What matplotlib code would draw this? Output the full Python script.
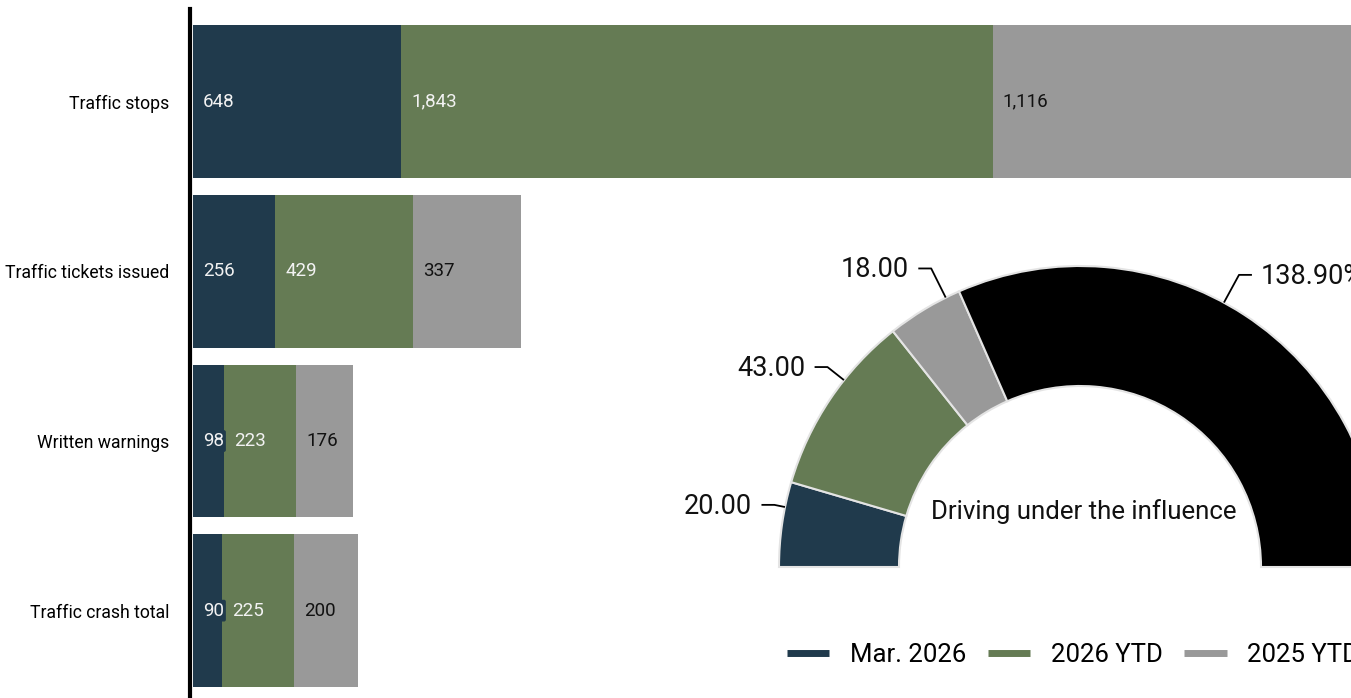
import numpy as np
import matplotlib
matplotlib.use('Agg')
import matplotlib.pyplot as plt
from matplotlib.lines import Line2D

plt.rcParams['font.family'] = ['Roboto', 'DejaVu Sans']

# bar data
categories = ['Traffic stops', 'Traffic tickets issued', 'Written warnings', 'Traffic crash total']
series_names = ['Mar. 2026', '2026 YTD', '2025 YTD']
mar_2026 = [648, 256, 98, 90]
ytd_2026 = [1843, 429, 223, 225]
ytd_2025 = [1116, 337, 176, 200]

# donut data
donut_title = 'Driving under the influence'
donut_values = [20.00, 43.00, 18.00, 138.90]
donut_labels = ['20.00', '43.00', '18.00', '138.90%']

colors = ['#203a4c', '#657b54', '#999999']
donut_colors = colors + ['#000000']
label_colors = ['#f2f2f2', '#f2f2f2', '#111111']

W, H = 1351, 698
fig = plt.figure(figsize=(W / 100, H / 100), dpi=100)

# ---- stacked bars
ax = fig.add_axes([193 / W, 0, (W - 193) / W, 689 / H])
ypos = np.arange(len(categories))
left = np.zeros(len(categories))
for vals, col, lcol, name in zip([mar_2026, ytd_2026, ytd_2025], colors, label_colors, series_names):
    ax.barh(ypos, vals, left=left, height=0.9, color=col, label=name)
    for y, l, v in zip(ypos, left, vals):
        ax.annotate(f'{v:,}', (l, y), xytext=(10, 0), textcoords='offset pixels',
                    ha='left', va='center', fontsize=13.5, color=lcol,
                    bbox=dict(boxstyle='round,pad=0.1', fc=col, ec='none'))
    left = left + np.array(vals)

ax.set_xlim(0, 3607)
ax.set_ylim(3.515, -0.547)
ax.set_yticks(ypos)
ax.set_yticklabels(categories)
ax.tick_params(axis='y', length=0, pad=15, labelsize=12.7)
ax.set_xticks([])
for s in ['top', 'right', 'bottom']:
    ax.spines[s].set_visible(False)
ax.spines['left'].set_linewidth(3)
ax.spines['left'].set_position(('outward', 2))
ax.patch.set_visible(False)

# ---- half donut, overlay axes in pixel units
ax2 = fig.add_axes([0, 0, 1, 1])
cx, cy, R, ring = 1080, 131, 301, 120
vals = donut_values + [sum(donut_values)]
wedges, _ = ax2.pie(vals, colors=donut_colors + ['none'], startangle=180, counterclock=False,
                    radius=R, center=(cx, cy),
                    wedgeprops=dict(width=ring, edgecolor='#e4e4e4', linewidth=1.5))
wedges[-1].set_visible(False)
ax2.set_xlim(0, W)
ax2.set_ylim(0, H)
ax2.set_aspect('auto')
ax2.axis('off')

for w, lab in zip(wedges[:-1], donut_labels):
    mid = np.deg2rad((w.theta1 + w.theta2) / 2)
    c, s = np.cos(mid), np.sin(mid)
    sgn = 1 if c > 0 else -1
    # text anchor
    xa, ya = cx + (R + 30) * c, cy + (R + 30) * s
    ax2.text(xa, ya, lab, ha='left' if sgn > 0 else 'right', va='bottom',
             fontsize=19.5, color='#111111')
    # leader line: short horizontal beside the text, then to the arc
    yc = ya + 15
    q1 = (xa - sgn * 10, yc)
    q2 = (xa - sgn * 22, yc)
    ang = np.arctan2(q2[1] - cy, q2[0] - cx)
    q3 = (cx + (R + 1) * np.cos(ang), cy + (R + 1) * np.sin(ang))
    ax2.plot([q1[0], q2[0], q3[0]], [q1[1], q2[1], q3[1]], color='black', lw=1.3)

ax2.text(cx + 4, cy + 55, donut_title, ha='center', va='center', fontsize=18.6, color='#111111')

# ---- legend
handles = [Line2D([], [], color=c, lw=5, solid_capstyle='butt') for c in colors]
fig.legend(handles, series_names, loc='center left', bbox_to_anchor=(763.5 / W, 1 - 655 / H),
           ncol=3, frameon=False, fontsize=18.5, handlelength=1.65, handletextpad=0.8,
           columnspacing=0.85)

fig.savefig('out.png', dpi=100)
